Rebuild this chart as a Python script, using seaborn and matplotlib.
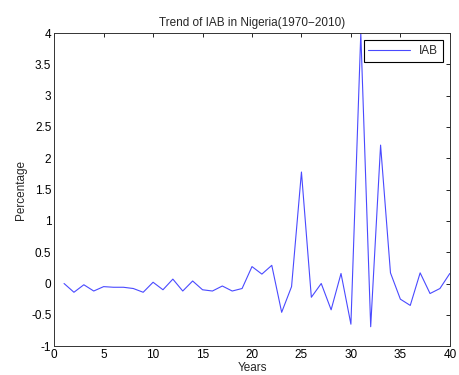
import matplotlib
matplotlib.use("Agg")
import matplotlib.pyplot as plt
import seaborn as sns
import numpy as np

# IAB values (Nigeria, 1970-2010)
years = list(range(1, 41))
iab = [0.00, -0.14, -0.02, -0.12, -0.05, -0.06, -0.06, -0.08, -0.14, 0.02,
       -0.10, 0.07, -0.12, 0.04, -0.10, -0.12, -0.04, -0.12, -0.08, 0.27,
       0.15, 0.29, -0.46, -0.05, 1.78, -0.22, 0.00, -0.42, 0.16, -0.65,
       4.00, -0.69, 2.21, 0.17, -0.25, -0.35, 0.17, -0.16, -0.08, 0.16]
x_ticks = list(range(0, 41, 5))
y_ticks = list(np.arange(-1, 4.01, 0.5))

sns.set_style("white")
plt.rcParams["font.family"] = ["Liberation Sans", "DejaVu Sans"]

fig = plt.figure(figsize=(4.59, 3.75), dpi=100)
ax = fig.add_axes([0.118, 0.077, 0.862, 0.835])
sns.lineplot(x=years, y=iab, color="#4a4aff", linewidth=0.8, label="IAB", ax=ax)

ax.set_xlim(0, 40)
ax.set_ylim(-1, 4)
ax.set_xticks(x_ticks)
ax.set_yticks(y_ticks)
ax.set_yticklabels([f"{v:g}" for v in y_ticks])
ax.tick_params(direction="in", length=3, width=0.6, top=True, right=True,
               labelsize=8.5, pad=2, colors="black")
for s in ax.spines.values():
    s.set_color("#333333")
    s.set_linewidth(0.7)

ax.set_title("Trend of IAB in Nigeria(1970\u22122010)", fontsize=8.5, pad=5)
ax.set_xlabel("Years", fontsize=8.5, labelpad=1)
ax.set_ylabel("Percentage", fontsize=8.5, labelpad=3)

leg = ax.legend(loc="upper right", fontsize=8.5, fancybox=False, framealpha=1,
                borderaxespad=0.6, handlelength=3.5, borderpad=0.4)
leg.get_frame().set_edgecolor("black")
leg.get_frame().set_linewidth(0.8)

fig.savefig("out.png", dpi=100)
